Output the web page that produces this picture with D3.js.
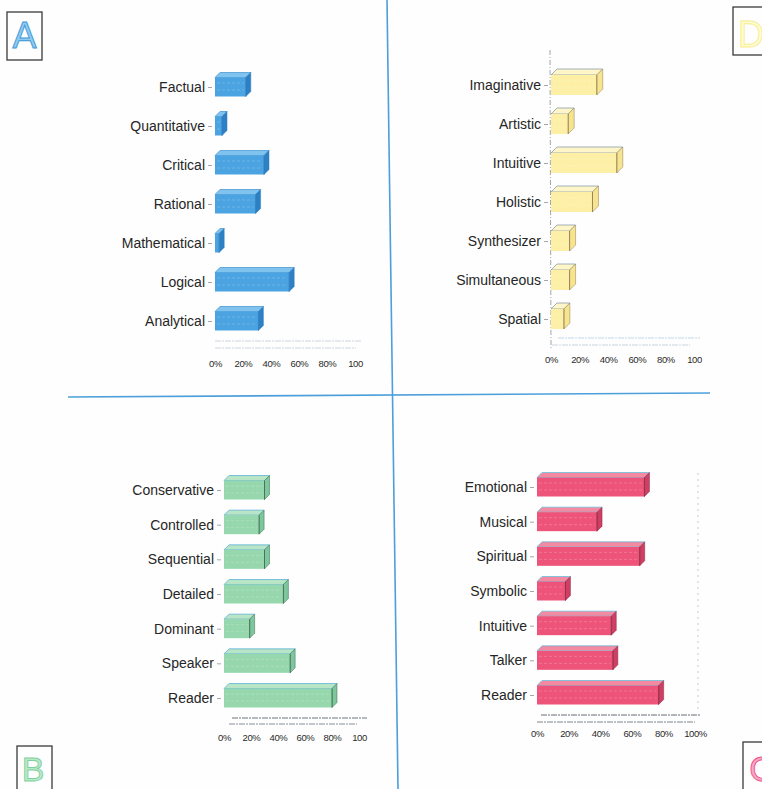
<!DOCTYPE html>
<html><head><meta charset="utf-8">
<script src="https://cdn.jsdelivr.net/npm/d3@7/dist/d3.min.js"></script>
<style>
html,body{margin:0;padding:0;background:#fff;}
svg{display:block;}
text{font-family:"Liberation Sans",Arial,sans-serif;}
</style></head><body>
<svg id="chart" width="762" height="789"></svg>
<script>
// Trait profiles for the four thinking quadrants (percent of respondents)
const catsA = ["Factual","Quantitative","Critical","Rational","Mathematical","Logical","Analytical"];
const valsA = [22,5,35,29,3,53,31];
const catsD = ["Imaginative","Artistic","Intuitive","Holistic","Synthesizer","Simultaneous","Spatial"];
const valsD = [32,12,46,29,13,13,9];
const catsB = ["Conservative","Controlled","Sequential","Detailed","Dominant","Speaker","Reader"];
const valsB = [30,26,30,44,19,49,80];
const catsC = ["Emotional","Musical","Spiritual","Symbolic","Intuitive","Talker","Reader"];
const valsC = [68,38,65,18,47,48,77];
const tickVals = [0,20,40,60,80,100];
const tickLabels = ["0%","20%","40%","60%","80%","100"];
const tickLabelsC = ["0%","20%","40%","60%","80%","100%"];

const svg = d3.select("#chart");
svg.append("rect").attr("width",762).attr("height",789).attr("fill","#fefefe");

// Quadrant dividers
svg.append("line").attr("x1",387).attr("y1",0).attr("x2",398).attr("y2",789)
  .attr("stroke","#4c9fdb").attr("stroke-width",1.6);
svg.append("line").attr("x1",68).attr("y1",397).attr("x2",710).attr("y2",393)
  .attr("stroke","#4c9fdb").attr("stroke-width",1.6);

const panels = [
  {cats:catsA, vals:valsA, ticks:tickLabels, x0:215, w:140, y0:87, y1:321, tickY:364, h:19, d:5,
   front:"#4ba3e2", top:"#80c3ef", side:"#2c80c3", edge:"#2f7fc0", topEdge:"#3d8fd0",
   floor:[[215,341,362,"#c9d3dc"],[215,348,356,"#c9d3dc"]], axisLine:null, backLine:null},
  {cats:catsD, vals:valsD, ticks:tickLabels, x0:551, w:143, y0:85, y1:319, tickY:360, h:20, d:6,
   front:"#fdf0a6", top:"#fef6c8", side:"#f8e48c", edge:"#8a7c58", topEdge:"#7d8fa0",
   floor:[[558,338,700,"#bcd6e8"],[552,345,690,"#c4d0da"]], axisLine:[550,50,348], backLine:null},
  {cats:catsB, vals:valsB, ticks:tickLabels, x0:224, w:135, y0:490, y1:698, tickY:738, h:19, d:5,
   front:"#97d7ae", top:"#b7e5c6", side:"#7cc79b", edge:"#3f6b52", topEdge:"#4fa9d6",
   floor:[[232,718,367,"#5c6670"],[229,724,357,"#7a838c"]], axisLine:null, backLine:null},
  {cats:catsC, vals:valsC, ticks:tickLabelsC, x0:537, w:158, y0:487, y1:695, tickY:734, h:19, d:5,
   front:"#ee5479", top:"#f48aa2", side:"#cf3e63", edge:"#8a2a44", topEdge:"#58bde0",
   floor:[[541,715,700,"#555d66"],[537,722,695,"#6f7780"]], axisLine:null, backLine:[698,473,713]}
];

panels.forEach(p => {
  const g = svg.append("g");
  const x = d3.scaleLinear().domain([0,100]).range([p.x0, p.x0 + p.w]);
  const y = d3.scalePoint().domain(p.cats).range([p.y0, p.y1]);

  // floor edges of the 3D plot area
  p.floor.forEach(f => g.append("line").attr("x1",f[0]).attr("y1",f[1]).attr("x2",f[2]).attr("y2",f[1])
    .attr("stroke",f[3]).attr("stroke-width",0.9).attr("stroke-dasharray","6,1,2,1"));
  if (p.axisLine) g.append("line").attr("x1",p.axisLine[0]).attr("y1",p.axisLine[1])
    .attr("x2",p.axisLine[0]+1).attr("y2",p.axisLine[2])
    .attr("stroke","#8a8f96").attr("stroke-width",0.8).attr("stroke-dasharray","5,2,1,2");
  if (p.backLine) g.append("line").attr("x1",p.backLine[0]).attr("y1",p.backLine[1])
    .attr("x2",p.backLine[0]).attr("y2",p.backLine[2])
    .attr("stroke","#b9bfc6").attr("stroke-width",0.8).attr("stroke-dasharray","2,4");

  // bars: front face, top face and side face
  const bars = g.selectAll("g.bar").data(p.cats.map((c,i)=>({c, v:p.vals[i]}))).join("g").attr("class","bar");
  const h = p.h, d = p.d;
  bars.append("polygon").attr("points", b => {
    const yt = y(b.c) - h/2, xe = x(b.v);
    return [[p.x0,yt],[p.x0+d,yt-d],[xe+d,yt-d],[xe,yt]].join(" ");
  }).attr("fill",p.top).attr("stroke",p.topEdge).attr("stroke-width",0.7);
  bars.append("polygon").attr("points", b => {
    const yt = y(b.c) - h/2, xe = x(b.v);
    return [[xe,yt],[xe+d,yt-d],[xe+d,yt+h-d],[xe,yt+h]].join(" ");
  }).attr("fill",p.side).attr("stroke",p.edge).attr("stroke-width",0.5);
  bars.append("rect").attr("x",p.x0).attr("y",b=>y(b.c)-h/2)
    .attr("width",b=>x(b.v)-p.x0).attr("height",h)
    .attr("fill",p.front);
  bars.append("line").attr("x1",b=>x(b.v)).attr("x2",b=>x(b.v))
    .attr("y1",b=>y(b.c)-h/2).attr("y2",b=>y(b.c)+h/2)
    .attr("stroke",p.edge).attr("stroke-width",0.9);
  // faint print texture lines inside the bar front
  [-4,3].forEach(o => bars.append("line").attr("x1",p.x0+2).attr("x2",b=>Math.max(p.x0+2,x(b.v)-2))
    .attr("y1",b=>y(b.c)+o).attr("y2",b=>y(b.c)+o)
    .attr("stroke","#ffffff").attr("stroke-opacity",0.25).attr("stroke-width",0.8)
    .attr("stroke-dasharray","3,2"));

  // category axis
  const ya = g.append("g").attr("transform",`translate(${p.x0-3},0)`)
    .call(d3.axisLeft(y).tickSize(4).tickPadding(3));
  ya.select(".domain").remove();
  ya.selectAll("line").attr("stroke","#8c9096").attr("stroke-width",0.8);
  ya.selectAll("text").attr("font-size","14px").attr("fill","#262626")
    .attr("font-family","'Liberation Sans',Arial,sans-serif");

  // value axis labels
  const xa = g.append("g").attr("transform",`translate(0,${p.tickY-3.6})`)
    .call(d3.axisBottom(x).tickValues(tickVals).tickFormat((v,i)=>p.ticks[i]).tickSize(0).tickPadding(0));
  xa.select(".domain").remove();
  xa.selectAll("text").attr("font-size","9.5px").attr("fill","#2a2a2a")
    .attr("letter-spacing","-0.4px").attr("font-family","'Liberation Sans',Arial,sans-serif");
});

// Quadrant badges
const badges = [
  {t:"A", bx:7, by:12, bw:35, bh:48, tx:24.5, ty:48, fs:36, fill:"#8fcbf0", stroke:"#3b97d8"},
  {t:"D", bx:733, by:7, bw:40, bh:48, tx:751, ty:47, fs:36, fill:"#fefbd8", stroke:"#f7ee8a"},
  {t:"B", bx:17, by:746, bw:35, bh:60, tx:33, ty:781, fs:34, fill:"#b9e8c8", stroke:"#7fd09e"},
  {t:"C", bx:743, by:742, bw:40, bh:60, tx:762, ty:781, fs:35, fill:"#f7a8c4", stroke:"#ec4f88"}
];
badges.forEach(b => {
  svg.append("rect").attr("x",b.bx).attr("y",b.by).attr("width",b.bw).attr("height",b.bh)
    .attr("fill","none").attr("stroke","#3a3a3a").attr("stroke-width",1.3);
  svg.append("text").attr("x",b.tx).attr("y",b.ty).attr("text-anchor","middle")
    .attr("font-size",b.fs+"px").attr("fill",b.fill).attr("stroke",b.stroke).attr("stroke-width",0.9)
    .attr("font-family","'Liberation Sans',Arial,sans-serif").text(b.t);
});
</script>
</body></html>
